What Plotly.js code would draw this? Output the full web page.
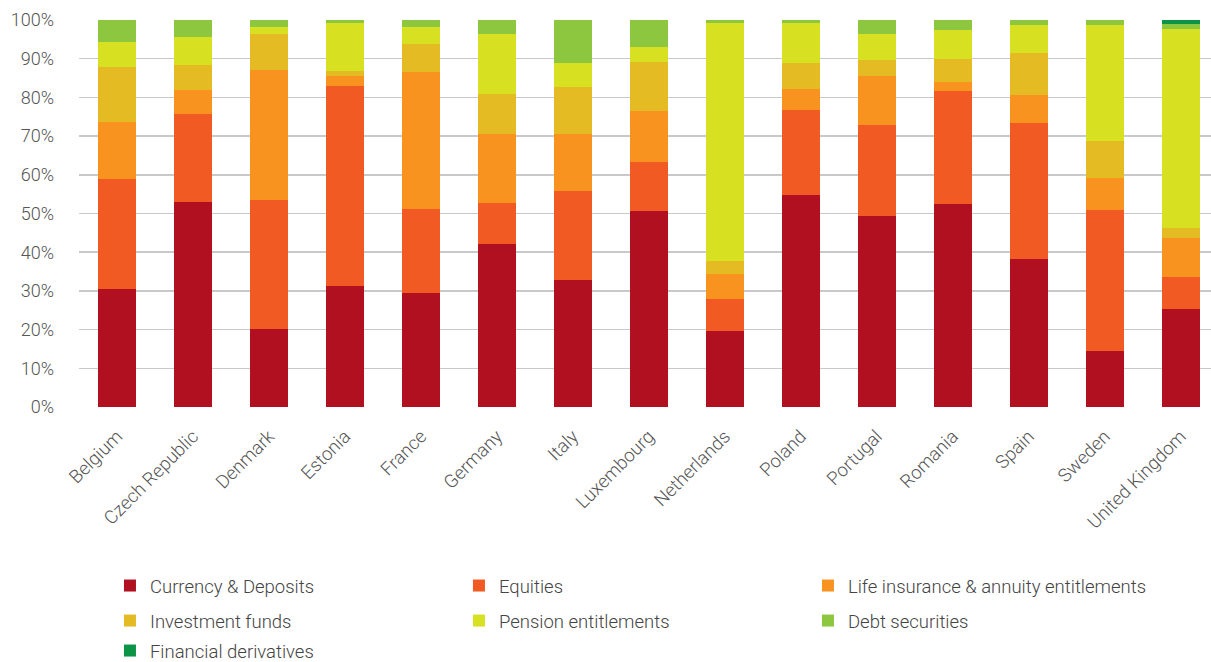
<!DOCTYPE html>
<html>
<head>
<meta charset="utf-8">
<script src="https://cdn.plot.ly/plotly-3.0.1.min.js"></script>
<style>html,body{margin:0;padding:0;background:#fff;}#chart{width:1211px;height:662px;}</style>
</head>
<body>
<div id="chart"></div>
<script>
const countries = ["Belgium","Czech Republic","Denmark","Estonia","France","Germany","Italy","Luxembourg","Netherlands","Poland","Portugal","Romania","Spain","Sweden","United Kingdom"];
const currencyDeposits = [30.5,53.0,20.2,31.3,29.5,42.2,32.9,50.7,19.7,54.8,49.4,52.5,38.3,14.5,25.4];
const equities        = [28.4,22.7,33.3,51.7,21.7,10.6,23.0,12.6,8.3,22.0,23.5,29.2,35.1,36.4,8.2];
const lifeInsurance   = [14.8,6.2,33.6,2.5,35.4,17.8,14.7,13.2,6.4,5.4,12.6,2.3,7.2,8.3,10.1];
const investmentFunds = [14.2,6.5,9.3,1.3,7.2,10.3,12.1,12.7,3.4,6.7,4.2,5.9,10.9,9.6,2.6];
const pensionEnt      = [6.4,7.2,1.8,12.4,4.4,15.5,6.2,3.8,61.4,10.3,6.7,7.5,7.2,29.9,51.4];
const debtSecurities  = [5.7,4.4,1.8,0.8,1.8,3.6,11.1,7.0,0.8,0.8,3.6,2.6,1.3,1.3,1.3];
const finDerivatives  = [0,0,0,0,0,0,0,0,0,0,0,0,0,0,1.0];
const yTickVals = [0,10,20,30,40,50,60,70,80,90,100];
const yTickText = ["0%","10%","20%","30%","40%","50%","60%","70%","80%","90%","100%"];

const series = [
  {name:"Currency & Deposits", y:currencyDeposits, color:"#B0101F", legend:"legend"},
  {name:"Equities", y:equities, color:"#F15A22", legend:"legend"},
  {name:"Life insurance & annuity entitlements", y:lifeInsurance, color:"#F7931E", legend:"legend"},
  {name:"Investment funds", y:investmentFunds, color:"#E4BB22", legend:"legend2"},
  {name:"Pension entitlements", y:pensionEnt, color:"#D7E021", legend:"legend2"},
  {name:"Debt securities", y:debtSecurities, color:"#8DC63F", legend:"legend2"},
  {name:"Financial derivatives", y:finDerivatives, color:"#0B9446", legend:"legend3"}
];

const traces = series.map(s => ({
  type:"bar", x:countries, y:s.y, name:s.name, legend:s.legend,
  marker:{color:s.color, line:{width:0}}
}));

function legendRow(yc){
  return {orientation:"h", xref:"container", yref:"container", x:0.0908, xanchor:"left",
    y:yc, yanchor:"middle", entrywidth:304, entrywidthmode:"pixels",
    font:{size:18.5, color:"#444", family:"Roboto, sans-serif", weight:300}, traceorder:"normal", itemwidth:30,
    bgcolor:"rgba(0,0,0,0)"};
}

const layout = {
  width:1211, height:662,
  margin:{l:79, r:0, t:20, b:255},
  barmode:"stack", bargap:0.5,
  paper_bgcolor:"#fff", plot_bgcolor:"#fff",
  font:{family:"Roboto, sans-serif", color:"#555", size:16, weight:300},
  xaxis:{range:[-0.5,14.4], tickangle:-45, tickfont:{size:18.5, color:"#555"}, showgrid:false, zeroline:false, showline:false, ticks:"", ticklabelstandoff:14, automargin:false},
  yaxis:{range:[0,100], tickvals:yTickVals, ticktext:yTickText, tickfont:{size:18, color:"#555"}, gridcolor:"#C9C9C9", gridwidth:1.5, zeroline:false, showline:false, ticks:"", ticklabelstandoff:24, automargin:false},
  legend:legendRow(0.1148),
  legend2:legendRow(0.0619),
  legend3:legendRow(0.0166),
  showlegend:true
};

Plotly.newPlot("chart", traces, layout, {displayModeBar:false, staticPlot:true});
</script>
</body>
</html>
